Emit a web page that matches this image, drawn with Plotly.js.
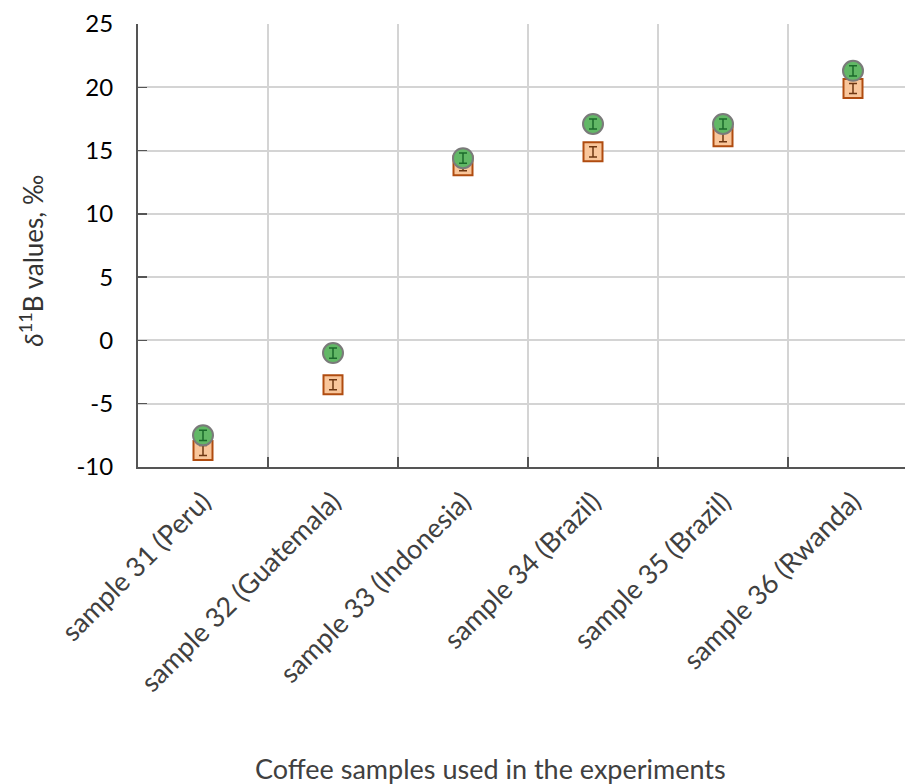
<!DOCTYPE html>
<html>
<head>
<meta charset="utf-8">
<script src="https://cdn.plot.ly/plotly-3.0.1.min.js"></script>
<style>
  html, body { margin: 0; padding: 0; background: #ffffff; }
  #chart { width: 905px; height: 784px; }
</style>
</head>
<body>
<div id="chart"></div>
<script>
// Coffee samples and their δ11B values (‰) from the two determinations
const samples = [
  "sample 31 (Peru)",
  "sample 32 (Guatemala)",
  "sample 33 (Indonesia)",
  "sample 34 (Brazil)",
  "sample 35 (Brazil)",
  "sample 36 (Rwanda)"
];
const seriesA = [-8.7, -3.5, 13.8, 14.9, 16.1, 19.9];   // orange squares
const errorsA = [0.4, 0.4, 0.4, 0.4, 0.4, 0.4];
const seriesB = [-7.5, -1.0, 14.4, 17.1, 17.1, 21.3];   // green circles
const errorsB = [0.4, 0.4, 0.4, 0.4, 0.4, 0.4];

// y tick values and labels (plain hyphen minus signs)
const yTickVals = [-10, -5, 0, 5, 10, 15, 20, 25];
const yTickText = ["-10", "-5", "0", "5", "10", "15", "20", "25"];

// marker trace plus an overlay trace so the error bars sit on top of the symbol
function markerTrace(y, marker) {
  return { type: "scatter", mode: "markers", x: samples, y: y, marker: marker, hoverinfo: "x+y" };
}
function errorTrace(y, err, color) {
  return {
    type: "scatter", mode: "markers", x: samples, y: y,
    marker: { size: 1, opacity: 0 },
    error_y: { type: "data", array: err, visible: true, color: color, thickness: 1.5, width: 4 },
    hoverinfo: "skip"
  };
}

const traces = [
  markerTrace(seriesA, { symbol: "square", size: 19, color: "#f9c69b", line: { color: "#b04c10", width: 2 } }),
  errorTrace(seriesA, errorsA, "#6e3712"),
  markerTrace(seriesB, { symbol: "circle", size: 20, color: "#62b866", line: { color: "#7a7a7a", width: 2 } }),
  errorTrace(seriesB, errorsB, "#1b6a2b")
];

const layout = {
  width: 905,
  height: 784,
  margin: { l: 138, r: 0, t: 24, b: 317 },
  paper_bgcolor: "#ffffff",
  plot_bgcolor: "#ffffff",
  showlegend: false,
  font: { family: "Lato, 'Open Sans', sans-serif", color: "#000000" },
  xaxis: {
    type: "category",
    range: [-0.5, 5.4],
    tickson: "boundaries",
    ticks: "inside",
    ticklen: 10,
    tickwidth: 1.5,
    tickcolor: "#555555",
    tickangle: -45,
    ticklabelstandoff: 6,
    tickfont: { size: 27, color: "#404040" },
    showgrid: true,
    gridcolor: "#d4d4d4",
    gridwidth: 2,
    showline: true,
    linecolor: "#555555",
    linewidth: 2,
    zeroline: false,
    automargin: false
  },
  yaxis: {
    range: [-10, 25],
    tickmode: "array",
    tickvals: yTickVals,
    ticktext: yTickText,
    ticks: "inside",
    ticklen: 9,
    tickwidth: 1.5,
    tickcolor: "#555555",
    ticklabelstandoff: 18,
    tickfont: { size: 24, color: "#000000" },
    showgrid: true,
    gridcolor: "#d4d4d4",
    gridwidth: 2,
    showline: true,
    linecolor: "#555555",
    linewidth: 2,
    zeroline: false,
    automargin: false
  },
  annotations: [
    {
      // y-axis title
      text: "<i>δ</i><sup>11</sup>B values, ‰",
      xref: "paper", yref: "paper",
      x: -0.14, y: 0.465,
      xanchor: "center", yanchor: "middle",
      textangle: -90,
      showarrow: false,
      font: { size: 26, color: "#333333" }
    },
    {
      // x-axis title
      text: "Coffee samples used in the experiments",
      xref: "paper", yref: "paper",
      x: 0.46, y: -0.68,
      xanchor: "center", yanchor: "middle",
      showarrow: false,
      font: { size: 27, color: "#404040" }
    }
  ]
};

Plotly.newPlot("chart", traces, layout, { displayModeBar: false, staticPlot: true });
</script>
</body>
</html>
